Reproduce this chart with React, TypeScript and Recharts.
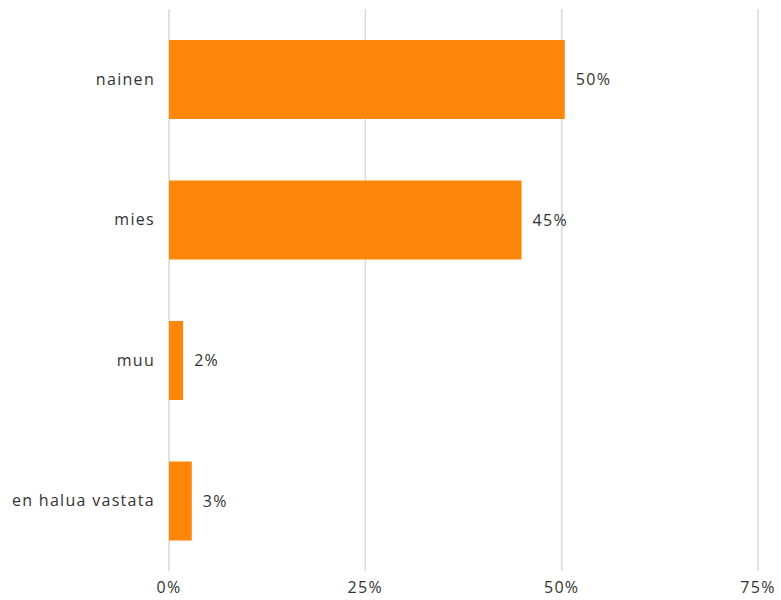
import { Bar, BarChart, CartesianGrid, LabelList, XAxis, YAxis } from "recharts";

const categories = ["nainen", "mies", "muu", "en halua vastata"];
const shares = [50.4, 44.9, 1.8, 2.9];
const xTicks = [0, 25, 50, 75];

const data = categories.map((name, i) => ({ name, value: shares[i] }));

const FONT = "'Open Sans', sans-serif";
const TEXT = "#333333";
const textStyle = { fill: TEXT, fontSize: 16, fontFamily: FONT, letterSpacing: 1.3 };

export default function App() {
  return (
    <div style={{ position: "absolute", top: 0, left: 0, background: "#fff" }}>
      <BarChart
        width={781}
        height={600}
        data={data}
        layout="vertical"
        margin={{ top: 9, right: 23, bottom: 0, left: 0 }}
        barCategoryGap="22%"
      >
        <CartesianGrid horizontal={false} stroke="#d9d9d9" strokeWidth={1.5} />
        <XAxis
          type="number"
          domain={[0, 75]}
          ticks={xTicks}
          height={29}
          axisLine={false}
          tickLine={false}
          tickMargin={5}
          tickFormatter={(v) => `${v}%`}
          tick={textStyle}
        />
        <YAxis
          type="category"
          dataKey="name"
          width={169}
          axisLine={false}
          tickLine={false}
          tickMargin={8}
          tick={textStyle}
        />
        <Bar dataKey="value" fill="#fd870a" isAnimationActive={false}>
          <LabelList
            dataKey="value"
            position="right"
            offset={11}
            formatter={(v: number) => `${Math.round(v)}%`}
            style={textStyle}
          />
        </Bar>
      </BarChart>
    </div>
  );
}
